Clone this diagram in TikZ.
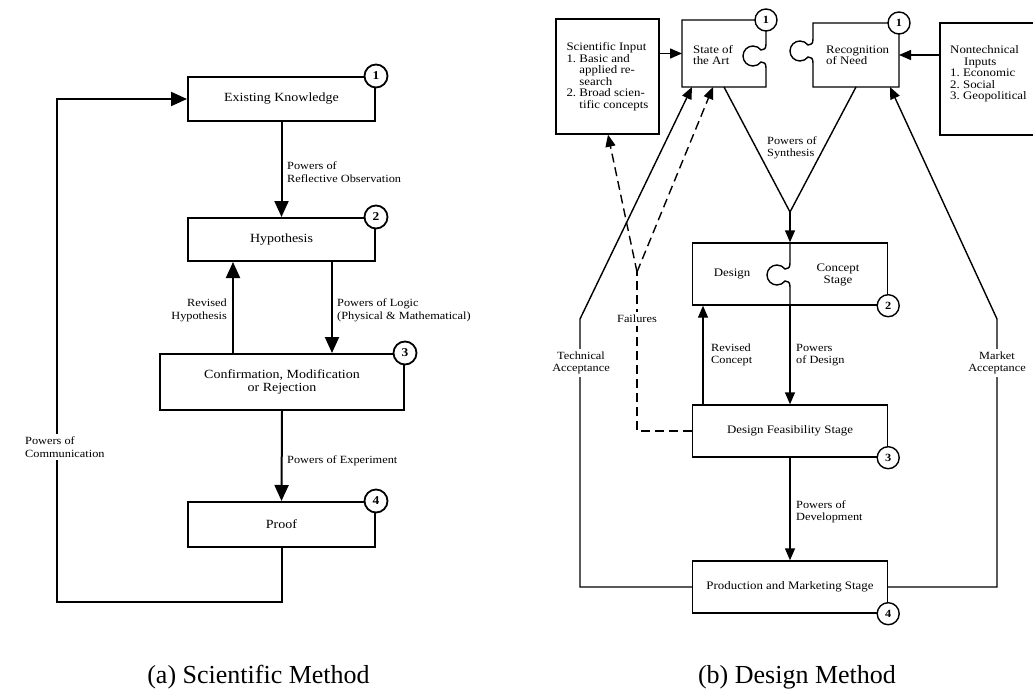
\documentclass[tikz,border=0pt]{standalone}
\usepackage{fontspec}
\setmainfont{Liberation Serif}
\newfontfamily\dfont[FakeStretch=1.12]{Liberation Serif}
\usetikzlibrary{arrows.meta,calc}
\tikzset{
 lbox/.style={draw, line width=2pt, font=\dfont\fontsize{12.5}{12.5}\selectfont, align=center, inner sep=0pt},
 lnum/.style={circle, draw, line width=1.8pt, fill=white, minimum size=23pt, inner sep=0pt, font=\dfont\bfseries\fontsize{12}{12}\selectfont},
 larr/.style={line width=2pt, line join=miter, -{Triangle[length=16pt,width=14pt]}},
 llab/.style={font=\dfont\fontsize{11}{13}\selectfont, align=left, inner sep=2pt},
 rbox/.style={draw, line width=1.4pt, font=\dfont\fontsize{11.5}{11.5}\selectfont, inner sep=0pt},
 rshape/.style={draw=none, outer sep=0pt, inner sep=0pt},
 rtext/.style={font=\dfont\fontsize{11.5}{11.5}\selectfont, align=left, inner sep=0pt},
 rnum/.style={circle, draw, line width=1.4pt, fill=white, minimum size=22pt, inner sep=0pt, font=\dfont\bfseries\fontsize{11}{11}\selectfont},
 rline/.style={line width=1.4pt, line join=miter},
 rarr/.style={line width=1.4pt, line join=miter, -{Triangle[length=12pt,width=10pt]}},
 rdash/.style={line width=1.4pt, dash pattern=on 9pt off 5pt},
 rlab/.style={font=\dfont\fontsize{11}{12}\selectfont, align=left, inner sep=2pt},
 gap/.style={fill=white, inner sep=3pt},
 capt/.style={font=\fontsize{26}{26}\selectfont, anchor=base},
 knob/.style 2 args={insert path={
  -- (#1,#2-12) .. controls (#1,#2-7) and (#1-2,#2-6) .. (#1-5,#2-6)
  .. controls (#1-6.9,#2-8.5) and (#1-9.85,#2-10) .. (#1-13,#2-10)
  .. controls (#1-18.5,#2-10) and (#1-23,#2-5.5) .. (#1-23,#2)
  .. controls (#1-23,#2+5.5) and (#1-18.5,#2+10) .. (#1-13,#2+10)
  .. controls (#1-9.85,#2+10) and (#1-6.9,#2+8.5) .. (#1-5,#2+6)
  .. controls (#1-2,#2+6) and (#1,#2+7) .. (#1,#2+12)
 }},
}
\begin{document}
\begin{tikzpicture}[x=1pt,y=-1pt]
\path[use as bounding box, clip] (0,0) rectangle (1033,690);
\fill[white] (0,0) rectangle (1033,690);

% ---------------- (a) Scientific Method ----------------
\node[lbox, minimum width=187, minimum height=44] (ek) at (281.5,99) {Existing Knowledge};
\node[lbox, minimum width=187, minimum height=43] (hyp) at (281.5,239.5) {Hypothesis};
\node[lbox, minimum width=244, minimum height=56] (conf) at (282,382) {Confirmation, Modification\\or Rejection};
\node[lbox, minimum width=187, minimum height=45] (proof) at (281.5,524.5) {Proof};
\coordinate (fb) at (57,602);

\draw[larr] (ek.south) -- (hyp.north);
\draw[larr] ($(hyp.south)+(50.5,0)$) -- ($(hyp.south|-conf.north)+(50.5,0)$);
\draw[larr] ($(hyp.south|-conf.north)+(-48.5,0)$) -- ($(hyp.south)+(-48.5,0)$);
\draw[larr] (conf.south) -- (proof.north);
\draw[larr] (proof.south) |- (fb) |- (ek.west);

\node[llab, anchor=west] (l1) at (285,172) {Powers of\\Reflective Observation};
\node[llab, anchor=west] (l2) at (335,310) {Powers of Logic\\(Physical \& Mathematical)};
\node[llab, anchor=east, align=right] (l3) at (229,310) {Revised\\Hypothesis};
\node[llab, anchor=west] (l4) at (285,461) {Powers of Experiment};
\node[llab, gap, anchor=west] (l5) at (22,447) {Powers of\\Communication};

\node[lnum] (n1) at (ek.north east) {1};
\node[lnum] (n2) at (hyp.north east) {2};
\node[lnum] (n3) at (conf.north east) {3};
\node[lnum] (n4) at (proof.north east) {4};

% ---------------- (b) Design Method ----------------
\node[rbox, minimum width=103, minimum height=115, align=left] (si) at (607.5,76.5)
 {Scientific Input\\1.~Basic and\\\phantom{1.~}applied re-\\\phantom{1.~}search\\2.~Broad scien-\\\phantom{2.~}tific concepts};
\node[rshape, minimum width=84, minimum height=67] (sota) at (724,53.5) {};
\node[rshape, minimum width=86, minimum height=64] (rn) at (856,55) {};
\node[rbox, minimum width=100, minimum height=112] (nt) at (990,79) {};
\node[rbox, minimum width=195, minimum height=62] (dc) at (790,274) {};
\node[rbox, minimum width=195, minimum height=52] (fe) at (790,431) {Design Feasibility Stage};
\node[rbox, minimum width=195, minimum height=52] (pm) at (790,587) {Production and Marketing Stage};

\draw[rline] (sota.north west) -- (sota.north east) [knob={766}{56}] -- (sota.south east) -- (sota.south west) -- cycle;
\draw[rline] (rn.north east) -- (rn.north west) [knob={813}{51}] -- (rn.south west) -- (rn.south east) -- cycle;
\draw[rline] (dc.north) [knob={790}{275}] -- (dc.south);

\node[rtext, anchor=west] (t1) at (693,55) {State of\\the Art};
\node[rtext, anchor=west] (t2) at (826,55) {Recognition\\of Need};
\node[rtext, anchor=west] (t3) at (950,74) {Nontechnical\\\hspace*{14pt}Inputs\\1.~Economic\\2.~Social\\3.~Geopolitical};
\node[rtext] (t4) at (732,274) {Design};
\node[rtext, align=center] (t5) at (838,275) {Concept\\Stage};

\coordinate (vs) at (790,212);
\coordinate (ta) at (580,319);
\coordinate (ma) at (997,319);
\coordinate (fv) at (637,272);

\draw[rarr] (si.east|-sota.west) -- (sota.west);
\draw[rarr] (nt.west|-rn.east) -- (rn.east);
\draw[rline] (sota.south) -- (vs) -- (rn.south);
\draw[rarr] (vs) -- (dc.north);
\draw[rarr] (dc.south) -- (fe.north);
\draw[rarr] ($(fe.north)+(-87,0)$) -- ($(dc.south)+(-87,0)$);
\draw[rarr] (fe.south) -- (pm.north);
\draw[rarr] (pm.west) -| (ta) -- ($(sota.south west)+(10,0)$);
\draw[rarr] (pm.east) -| (ma) -- ($(rn.south east)+(-9,0)$);
\draw[rdash] (fe.west) -| (fv);
\draw[rdash, -{Triangle[length=12pt,width=10pt]}] (fv) -- ($(si.south)+(0.5,0)$);
\draw[rdash, -{Triangle[length=12pt,width=10pt]}] (fv) -- ($(sota.south west)+(31,0)$);

\node[rlab, anchor=west] (r1) at (765,148) {Powers of\\Synthesis};
\node[rlab, anchor=west] (r2) at (709,355) {Revised\\Concept};
\node[rlab, anchor=west] (r3) at (794,355) {Powers\\of Design};
\node[rlab, anchor=west] (r4) at (794,512) {Powers of\\Development};
\node[rlab, gap, align=center] (r5) at (581,363) {Technical\\Acceptance};
\node[rlab, gap, align=center] (r6) at (997,363) {Market\\Acceptance};
\node[rlab, gap, align=center] (r7) at (637,319) {Failures};

\node[rnum] (m1) at (sota.north east) {1};
\node[rnum] (m2) at (rn.north east) {1};
\node[rnum] (m3) at (dc.south east) {2};
\node[rnum] (m4) at (fe.south east) {3};
\node[rnum] (m5) at (pm.south east) {4};

% captions
\node[capt] (ca) at (258.5,683) {(a) Scientific Method};
\node[capt] (cb) at (797,683) {(b) Design Method};
\end{tikzpicture}
\end{document}
